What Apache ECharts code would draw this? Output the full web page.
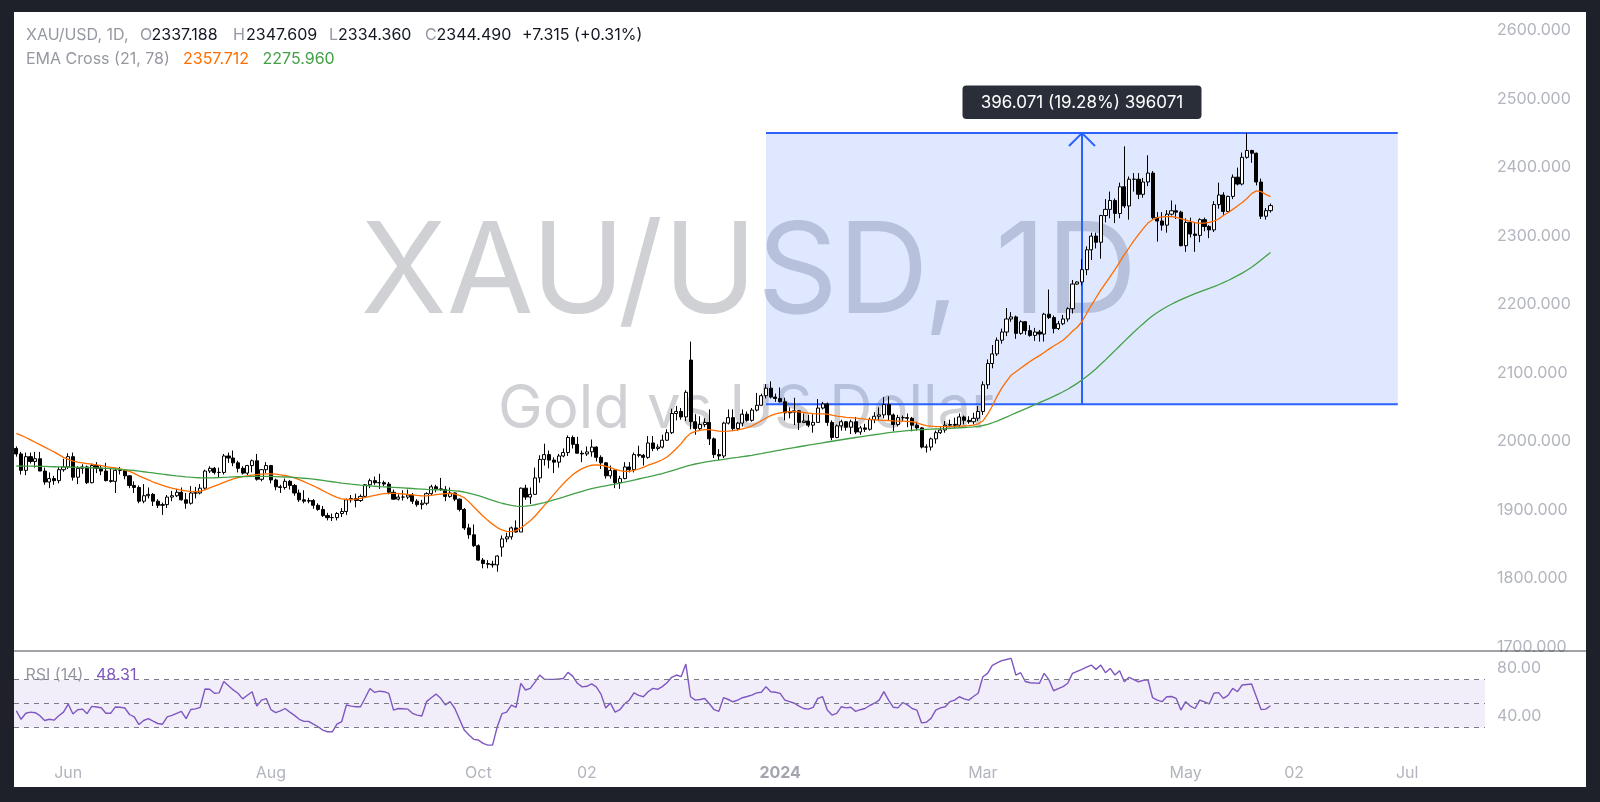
<!DOCTYPE html>
<html><head><meta charset="utf-8">
<script src="https://cdn.jsdelivr.net/npm/echarts@6/dist/echarts.min.js"></script>
<style>
html,body{margin:0;padding:0;background:#1e2129;width:1600px;height:802px;overflow:hidden;}
#panel{position:absolute;left:14px;top:12px;width:1572px;height:775px;background:#ffffff;}
#chart{position:absolute;left:0;top:0;width:1600px;height:802px;}
</style></head>
<body><div id="panel"></div><div id="chart"></div>
<script>
const dates = [
'2023-05-17','2023-05-18','2023-05-19','2023-05-22','2023-05-23','2023-05-24','2023-05-25','2023-05-26','2023-05-29','2023-05-30','2023-05-31',
'2023-06-01','2023-06-02','2023-06-05','2023-06-06','2023-06-07','2023-06-08','2023-06-09','2023-06-12','2023-06-13','2023-06-14','2023-06-15','2023-06-16','2023-06-19','2023-06-20','2023-06-21','2023-06-22','2023-06-23','2023-06-26','2023-06-27','2023-06-28','2023-06-29','2023-06-30',
'2023-07-03','2023-07-04','2023-07-05','2023-07-06','2023-07-07','2023-07-10','2023-07-11','2023-07-12','2023-07-13','2023-07-14','2023-07-17','2023-07-18','2023-07-19','2023-07-20','2023-07-21','2023-07-24','2023-07-25','2023-07-26','2023-07-27','2023-07-28','2023-07-31',
'2023-08-01','2023-08-02','2023-08-03','2023-08-04','2023-08-07','2023-08-08','2023-08-09','2023-08-10','2023-08-11','2023-08-14','2023-08-15','2023-08-16','2023-08-17','2023-08-18','2023-08-21','2023-08-22','2023-08-23','2023-08-24','2023-08-25','2023-08-28','2023-08-29','2023-08-30','2023-08-31',
'2023-09-01','2023-09-04','2023-09-05','2023-09-06','2023-09-07','2023-09-08','2023-09-11','2023-09-12','2023-09-13','2023-09-14','2023-09-15','2023-09-18','2023-09-19','2023-09-20','2023-09-21','2023-09-22','2023-09-25','2023-09-26','2023-09-27','2023-09-28','2023-09-29',
'2023-10-02','2023-10-03','2023-10-04','2023-10-05','2023-10-06','2023-10-09','2023-10-10','2023-10-11','2023-10-12','2023-10-13','2023-10-16','2023-10-17','2023-10-18','2023-10-19','2023-10-20','2023-10-23','2023-10-24','2023-10-25','2023-10-26','2023-10-27','2023-10-30','2023-10-31',
'2023-11-01','2023-11-02','2023-11-03','2023-11-06','2023-11-07','2023-11-08','2023-11-09','2023-11-10','2023-11-13','2023-11-14','2023-11-15','2023-11-16','2023-11-17','2023-11-20','2023-11-21','2023-11-22','2023-11-23','2023-11-24','2023-11-27','2023-11-28','2023-11-29','2023-11-30',
'2023-12-01','2023-12-04','2023-12-05','2023-12-06','2023-12-07','2023-12-08','2023-12-11','2023-12-12','2023-12-13','2023-12-14','2023-12-15','2023-12-18','2023-12-19','2023-12-20','2023-12-21','2023-12-22','2023-12-26','2023-12-27','2023-12-28','2023-12-29',
'2024-01-02','2024-01-03','2024-01-04','2024-01-05','2024-01-08','2024-01-09','2024-01-10','2024-01-11','2024-01-12','2024-01-15','2024-01-16','2024-01-17','2024-01-18','2024-01-19','2024-01-22','2024-01-23','2024-01-24','2024-01-25','2024-01-26','2024-01-29','2024-01-30','2024-01-31',
'2024-02-01','2024-02-02','2024-02-05','2024-02-06','2024-02-07','2024-02-08','2024-02-09','2024-02-12','2024-02-13','2024-02-14','2024-02-15','2024-02-16','2024-02-19','2024-02-20','2024-02-21','2024-02-22','2024-02-23','2024-02-26','2024-02-27','2024-02-28','2024-02-29',
'2024-03-01','2024-03-04','2024-03-05','2024-03-06','2024-03-07','2024-03-08','2024-03-11','2024-03-12','2024-03-13','2024-03-14','2024-03-15','2024-03-18','2024-03-19','2024-03-20','2024-03-21','2024-03-22','2024-03-25','2024-03-26','2024-03-27','2024-03-28','2024-03-29',
'2024-04-01','2024-04-02','2024-04-03','2024-04-04','2024-04-05','2024-04-08','2024-04-09','2024-04-10','2024-04-11','2024-04-12','2024-04-15','2024-04-16','2024-04-17','2024-04-18','2024-04-19','2024-04-22','2024-04-23','2024-04-24','2024-04-25','2024-04-26','2024-04-29','2024-04-30',
'2024-05-01','2024-05-02','2024-05-03','2024-05-06','2024-05-07','2024-05-08','2024-05-09','2024-05-10','2024-05-13','2024-05-14','2024-05-15','2024-05-16','2024-05-17','2024-05-20','2024-05-21','2024-05-22','2024-05-23','2024-05-24','2024-05-27','2024-05-28','2024-05-29','2024-05-30','2024-05-31',
'2024-06-03','2024-06-04','2024-06-05','2024-06-06','2024-06-07','2024-06-10','2024-06-11','2024-06-12','2024-06-13','2024-06-14','2024-06-17','2024-06-18','2024-06-19','2024-06-20','2024-06-21','2024-06-24','2024-06-25','2024-06-26','2024-06-27','2024-06-28',
'2024-07-01','2024-07-02','2024-07-03','2024-07-04','2024-07-05','2024-07-08','2024-07-09','2024-07-10','2024-07-11','2024-07-12','2024-07-15','2024-07-16','2024-07-17','2024-07-18','2024-07-19','2024-07-22','2024-07-23','2024-07-24','2024-07-25','2024-07-26','2024-07-29'
];

const opens = [
1990,1982,1958,1978,1971,1975,1957,1941,1946,1943,1959,1963,1978,1948,1961,1963,1940,1965,1961,1957,
1943,1942,1958,1958,1950,1936,1933,1913,1921,1923,1913,1907,1908,1919,1921,1926,1915,1910,1925,1925,
1932,1957,1961,1955,1955,1979,1976,1969,1961,1954,1965,1972,1945,1959,1965,1944,1934,1933,1942,1936,
1925,1915,1913,1914,1907,1901,1892,1889,1889,1895,1898,1915,1917,1914,1920,1937,1943,1940,1940,1938,
1926,1916,1919,1919,1922,1913,1908,1910,1924,1934,1931,1930,1920,1925,1916,1901,1874,1864,1848,1827,
1822,1821,1820,1846,1858,1861,1874,1868,1932,1919,1923,1947,1974,1981,1973,1970,1979,1984,2006,1996,
1983,1982,1985,1992,1977,1969,1950,1958,1940,1946,1963,1959,1981,1980,1977,1998,1990,1992,2002,2013,
2041,2044,2036,2119,2029,2019,2025,2028,2004,1981,1979,2027,2035,2019,2027,2040,2031,2046,2053,2067,
2078,2065,2063,2058,2042,2043,2045,2028,2030,2024,2028,2049,2055,2028,2006,2023,2029,2021,2029,2014,
2020,2018,2032,2037,2039,2054,2039,2025,2035,2035,2034,2024,2020,1992,1992,2004,2013,2017,2024,2025,
2024,2036,2031,2029,2034,2044,2083,2114,2128,2148,2160,2179,2182,2158,2175,2162,2155,2160,2157,2186,
2181,2165,2172,2179,2194,2230,2233,2251,2280,2300,2291,2330,2339,2352,2333,2372,2344,2383,2383,2361,
2379,2392,2327,2322,2316,2332,2337,2335,2286,2320,2303,2301,2324,2314,2309,2346,2360,2336,2358,2386,
2376,2415,2425,2421,2379,2329,2337.188
];
const highs = [
1993,1985,1984,1984,1985,1985,1962,1955,1950,1963,1975,1983,1984,1964,1967,1965,1968,1970,1966,1969,
1960,1961,1963,1960,1951,1942,1936,1938,1933,1925,1916,1911,1922,1928,1931,1933,1925,1935,1934,1938,
1959,1964,1963,1962,1982,1984,1987,1972,1964,1966,1974,1982,1960,1970,1966,1946,1937,1946,1944,1938,
1930,1929,1918,1916,1910,1906,1896,1895,1897,1903,1917,1922,1924,1923,1938,1946,1949,1953,1943,1941,
1930,1923,1929,1930,1925,1916,1915,1926,1937,1937,1947,1935,1933,1926,1917,1903,1880,1879,1850,1830,
1827,1826,1834,1863,1867,1876,1885,1933,1937,1933,1962,1980,1997,1987,1977,1982,1990,2009,2009,2007,
1987,1993,2003,1993,1980,1970,1965,1960,1950,1970,1970,1984,1994,1982,2008,2008,1996,2010,2018,2048,
2052,2049,2075,2146,2040,2037,2034,2047,2006,1989,2029,2047,2047,2029,2047,2044,2049,2071,2070,2084,
2088,2070,2079,2064,2050,2064,2046,2041,2039,2040,2062,2058,2057,2031,2025,2032,2030,2032,2036,2023,
2026,2035,2043,2050,2065,2066,2041,2039,2038,2041,2036,2029,2021,1996,2006,2016,2021,2030,2032,2035,
2041,2038,2037,2042,2052,2088,2120,2141,2152,2165,2195,2189,2184,2177,2176,2170,2166,2163,2188,2222,
2184,2176,2185,2196,2236,2234,2266,2285,2305,2305,2331,2354,2365,2355,2378,2431,2387,2392,2392,2385,
2418,2395,2335,2335,2338,2352,2346,2337,2326,2327,2319,2326,2327,2316,2351,2378,2364,2359,2390,2400,
2422,2450,2426,2422,2384,2341,2347.609
];
const lows = [
1978,1952,1951,1968,1962,1957,1937,1932,1937,1939,1956,1960,1943,1938,1953,1938,1939,1954,1951,1942,
1940,1925,1952,1945,1932,1925,1910,1910,1917,1906,1903,1893,1903,1913,1919,1914,1902,1908,1917,1923,
1930,1954,1952,1948,1952,1969,1964,1955,1952,1951,1955,1943,1942,1954,1939,1929,1925,1930,1930,1921,
1912,1910,1910,1902,1899,1890,1885,1884,1885,1890,1893,1911,1904,1912,1918,1932,1937,1931,1935,1923,
1915,1914,1914,1916,1909,1905,1901,1907,1922,1926,1928,1913,1918,1913,1898,1871,1858,1846,1826,1815,
1815,1816,1810,1832,1853,1857,1867,1868,1915,1909,1922,1940,1965,1961,1954,1962,1977,1979,1990,1983,
1970,1979,1978,1971,1960,1946,1946,1932,1931,1945,1955,1955,1977,1965,1975,1986,1987,1990,2001,2011,
2031,2032,2030,2018,2010,2017,2021,1995,1976,1973,1976,2025,2016,2016,2022,2029,2029,2044,2052,2063,
2063,2058,2057,2031,2034,2024,2017,2027,2021,2013,2028,2047,2023,2002,2005,2016,2016,2011,2011,2010,
2014,2016,2027,2031,2034,2030,2015,2022,2030,2021,2015,2016,1990,1984,1987,1997,2011,2013,2021,2020,
2021,2025,2026,2025,2030,2039,2077,2107,2125,2143,2154,2175,2150,2156,2156,2153,2147,2146,2146,2179,
2158,2163,2170,2175,2187,2229,2228,2243,2265,2282,2267,2320,2326,2319,2326,2341,2324,2365,2354,2356,
2373,2325,2292,2308,2305,2330,2325,2285,2277,2298,2277,2291,2307,2297,2306,2340,2331,2335,2354,2374,
2374,2413,2407,2374,2325,2324,2334.36
];
const closes = [
1982,1958,1978,1971,1975,1957,1941,1946,1943,1959,1963,1978,1948,1961,1963,1940,1965,1961,1957,1943,
1942,1958,1958,1950,1936,1933,1913,1921,1923,1913,1907,1908,1919,1921,1926,1915,1910,1925,1925,1932,
1957,1961,1955,1955,1979,1976,1969,1961,1954,1965,1972,1945,1959,1965,1944,1934,1933,1942,1936,1925,
1915,1913,1914,1907,1901,1892,1889,1889,1895,1898,1915,1917,1914,1920,1937,1943,1940,1940,1938,1926,
1916,1919,1919,1922,1913,1908,1910,1924,1934,1931,1930,1920,1925,1916,1901,1874,1864,1848,1827,1822,
1821,1820,1833,1858,1861,1874,1868,1932,1919,1923,1947,1974,1981,1973,1970,1979,1984,2006,1996,1983,
1982,1985,1992,1977,1969,1950,1958,1940,1946,1963,1959,1981,1980,1977,1998,1990,1992,2002,2013,2041,
2044,2036,2072,2029,2019,2025,2028,2004,1981,1979,2027,2035,2019,2027,2040,2031,2046,2053,2067,2078,
2065,2063,2058,2042,2043,2045,2028,2030,2024,2028,2049,2055,2028,2006,2023,2029,2021,2029,2014,2020,
2018,2032,2037,2039,2054,2039,2025,2035,2035,2034,2024,2020,1992,1992,2004,2013,2017,2024,2025,2024,
2036,2031,2029,2034,2044,2083,2114,2128,2148,2160,2179,2182,2158,2175,2162,2155,2160,2157,2186,2181,
2165,2172,2179,2194,2230,2233,2251,2280,2300,2291,2330,2339,2352,2333,2372,2344,2383,2383,2361,2379,
2392,2327,2322,2316,2332,2337,2335,2286,2320,2303,2301,2324,2314,2309,2346,2360,2336,2358,2386,2376,
2415,2425,2421,2379,2329,2337.175,2344.49
];

const ema21 = [
2012,2009,2006,2002.5,1999,1995.5,1992,1988.5,1985,1981,
1977,1974,1971.5,1970,1969,1968,1967,1966,1965,1963.5,
1962.5,1961.5,1960,1958.5,1956.5,1953.5,1950,1947,1944,1941,
1938.5,1936,1934,1932,1930.5,1929,1928,1927.2,1927,1927.5,
1929.5,1932.5,1935,1937.5,1940.5,1943,1945.5,1947.5,1948.8,1950,
1951,1951.8,1952.4,1953,1953,1952.5,1951.5,1950.5,1949,1947,
1944.5,1941.5,1938.5,1935.5,1932,1928.5,1925,1921.5,1918.5,1916.5,
1915.5,1915.5,1916,1917,1918.5,1920,1921.5,1923,1924,1924.5,
1924.3,1924,1923.5,1923,1922.3,1921.5,1920.8,1920.8,1921.5,1922.5,
1923.3,1924,1924.5,1923.5,1921.5,1918,1912,1905,1898,1891,
1885,1879.5,1874.5,1871,1868.8,1868.5,1870,1874,1879,1884.5,
1891,1899,1907,1915,1923,1931,1938.5,1945.5,1951.5,1956.5,
1960.5,1963.5,1965.5,1966,1965.5,1964,1962,1959.5,1957.5,1956.5,
1956.5,1958,1960,1962.5,1965.5,1968,1970.5,1973.5,1977.5,1983.5,
1990,1997,2006,2012,2015,2016.5,2017.5,2017.5,2016.5,2015.3,
2014.8,2015.2,2016,2017,2018.5,2020.5,2023,2026.5,2030.5,2034.5,
2038,2040.5,2042,2043,2043.7,2044,2043.5,2042.5,2041.5,2040.8,
2040.5,2040.5,2040,2038.5,2037.3,2036.5,2035.5,2035,2034.3,2033.5,
2032.8,2032.3,2031.8,2031.3,2031,2030.8,2030.3,2030,2029.8,2029.5,
2029,2027.5,2025,2023.3,2022.5,2022,2021.8,2021.8,2021.8,2022,
2022.5,2022.8,2023.2,2024,2026,2030,2040,2052,2066,2078,
2088,2097,2102,2107,2112,2117,2121.5,2125.5,2130,2135,
2139.5,2143.5,2148,2154,2161,2167,2175,2187,2199,2210,
2221,2231,2241,2251,2262,2273,2283,2293,2302,2311,
2319,2324,2327,2328,2328.5,2328.5,2327.5,2325.5,2323.5,2321.5,
2319.5,2319,2319,2320,2322,2325,2330,2334,2339,2344,
2349,2355,2362,2366,2365,2361,2357.712
];
const ema78 = [
1964.4,1964.3,1964.2,1964.1,1964,1963.9,1963.7,1963.5,1963.3,1963.1,
1963,1962.8,1962.6,1962.4,1962.2,1962,1961.8,1961.5,1961.2,1960.8,
1960.4,1960,1959.5,1959,1958.5,1957.8,1956.9,1956,1955.1,1954.2,
1953.3,1952.4,1951.6,1950.8,1950,1949.3,1948.6,1948,1947.5,1947.2,
1947.1,1947.1,1947.2,1947.4,1947.7,1948,1948.4,1948.7,1948.9,1949,
1949.1,1949.1,1949.2,1949.2,1949.1,1948.9,1948.6,1948.3,1948,1947.6,
1947.1,1946.5,1945.8,1945.1,1944.3,1943.4,1942.4,1941.4,1940.4,1939.5,
1938.7,1937.9,1937.2,1936.5,1935.9,1935.3,1934.8,1934.3,1933.9,1933.5,
1933.1,1932.7,1932.3,1931.9,1931.5,1931.1,1930.7,1930.3,1930,1929.7,
1929.4,1929.1,1928.7,1928.2,1927.5,1926.4,1924.8,1923,1921,1918.8,
1916.5,1914.2,1912,1910,1908.2,1906.8,1905.8,1905.5,1905.8,1906.6,
1907.8,1909.3,1911,1912.8,1914.8,1916.8,1918.8,1921,1923.2,1925.4,
1927.5,1929.4,1931.2,1932.8,1934.2,1935.5,1936.8,1938,1939.3,1940.8,
1942.3,1943.9,1945.4,1946.9,1948.4,1950,1951.7,1953.4,1955.3,1957.4,
1959.5,1961.8,1964,1965.8,1967.3,1968.7,1970,1971.2,1972.2,1973.1,
1974.1,1975.1,1976.1,1977,1978,1979,1980,1981.2,1982.4,1983.8,
1985.1,1986.4,1987.7,1988.9,1990.1,1991.3,1992.5,1993.6,1994.7,1995.8,
1997,1998.2,1999.4,2000.5,2001.6,2002.7,2003.8,2004.9,2006,2007,
2008,2009,2010,2011,2012,2013,2013.8,2014.6,2015.3,2016,
2016.6,2017.1,2017.5,2017.8,2018.1,2018.4,2018.7,2019,2019.4,2019.8,
2020.2,2020.6,2021,2021.5,2022.3,2023.5,2025.3,2027.5,2030,2032.8,
2035.8,2038.8,2041.8,2044.8,2047.8,2050.8,2053.8,2056.8,2059.8,2062.8,
2066,2069.3,2072.8,2076.5,2080.6,2085,2089.8,2095,2100.6,2106.5,
2112.8,2119.3,2126,2132.8,2139.6,2146.3,2153,2159.6,2166,2172.2,
2178.2,2183.6,2188.4,2192.8,2196.8,2200.5,2204,2207.2,2210.2,2213.2,
2216,2218.7,2221.2,2223.6,2226.2,2229,2232,2235.2,2238.6,2242.2,
2246,2250.2,2254.6,2259.5,2265,2270.5,2275.96
];
const rsi14 = [
44,37,42,43,42.5,40,36,37,36.3,40,
43,49.7,41.4,45,45.5,41.7,47.8,47.2,46.6,42,
42,47.3,47,46.4,41,39,32.6,36,37.6,35.4,
33.5,32.9,39,40.3,42,43.6,37.6,45.2,45.7,47,
62.2,62,58.7,59,68.5,65,61.5,58.7,54,57,
60,48,53,54.3,45,42.6,44,46,43,40.3,
37,35.3,35.3,33,30.8,28,26.6,26.6,33,35,
48.9,48,47.5,47.5,55,62.7,59.4,60.5,60,58.6,
44.7,46,45.8,45.5,42,40.5,39.7,51.7,55,58,
54.5,49,51.7,46,37,28,24,20.3,19.7,17,
15.5,15.5,30.8,41.7,43,48.9,47,67,61.4,62.8,
68,73.9,70.3,70.3,70.3,70.6,71,76.1,73,67,
64,64.5,66.5,64,58,46.4,50.5,43,45,50,
52.9,59,57,55.8,60,62.8,62,64.2,67.5,72,
73.9,72.5,83,55.8,53,53.5,54.3,50,45,43.6,
55.1,53.5,51.6,53,55,56,57.2,59,59.5,64.2,
60,59.5,58.6,53,51.7,50.4,48,46,45.5,47,
54.4,55.8,44.7,40.5,42,47.5,46.5,47,43.6,45,
46,48.5,50.4,53,60,53,47,46.5,51,49,
46,44.7,34,34.5,37.8,44.7,46.5,47.5,51.7,53,
55.8,54,53,56,58.7,72.5,75.3,82,84,85.9,
86.8,87.8,73.9,75.8,68.5,67.5,67.2,67,75.3,70,
60.8,62.5,64.2,67,75.3,77,78.6,80.5,82.2,78.6,
82.2,75.8,79.4,73.9,77.5,68.3,72,70,68.3,69.5,
70,55,53,51.7,55.8,56,54.4,44.7,51.7,48,
46,53,51.5,49.8,58.7,59.2,54.4,57,62.8,60,
65.6,66,66.4,55.8,45.2,45.5,48.31
];

const priceTicks = {min: 1700, max: 2600, step: 100};
const tickDates = ['2023-06-01','2023-08-01','2023-10-02','2023-11-02','2024-01-02','2024-03-01','2024-05-01','2024-06-03','2024-07-05'];
const tickTexts = ['Jun','Aug','Oct','02','2024','Mar','May','02','Jul'];

const measureStart = '2023-12-27';
const measureEnd = '2024-07-03';
const measureArrow = '2024-04-01';
const measureLow = 2054.35;
const measureHigh = 2450.42;
const measureText = '396.071 (19.28%) 396071';

const FONT = 'Inter, "Noto Sans", sans-serif';
const LBL = '#b2b5be';

const candleData = opens.map((o, i) => [o, closes[i], lows[i], highs[i]]);
const tickMap = {};
tickDates.forEach((d, i) => { tickMap[d] = tickTexts[i]; });

const chart = echarts.init(document.getElementById('chart'), null, {renderer: 'canvas'});

function hdr(x, y, text, fill) {
  return {type: 'text', x: x, y: y, z: 10,
    style: {text: text, fill: fill, font: '16px ' + FONT, verticalAlign: 'middle', textVerticalAlign: 'middle'}};
}

const option = {
  backgroundColor: 'transparent',
  animation: false,
  grid: [
    {left: 14, width: 1471, top: 30.6, height: 616.5},
    {left: 14, width: 1471, top: 643.7, height: 120}
  ],
  xAxis: [
    {type: 'category', gridIndex: 0, data: dates, boundaryGap: true, show: false},
    {type: 'category', gridIndex: 1, data: dates, boundaryGap: true,
      axisLine: {show: false}, axisTick: {show: false}, splitLine: {show: false},
      axisLabel: {
        margin: 1, fontSize: 16, fontFamily: FONT, color: LBL,
        interval: function (idx, val) { return tickMap[val] !== undefined; },
        formatter: function (val) {
          const t = tickMap[val];
          if (!t) return '';
          return t === '2024' ? '{b|' + t + '}' : t;
        },
        rich: {b: {fontWeight: 'bold', fontSize: 16, fontFamily: FONT, color: '#a3a6af'}}
      }}
  ],
  yAxis: [
    {type: 'value', gridIndex: 0, position: 'right', min: priceTicks.min, max: priceTicks.max, interval: priceTicks.step,
      axisLine: {show: false}, axisTick: {show: false}, splitLine: {show: false},
      axisLabel: {margin: 12, fontSize: 16, fontFamily: FONT, color: LBL, formatter: v => v.toFixed(3)}},
    {type: 'value', gridIndex: 1, position: 'right', min: 0, max: 100, interval: 40,
      axisLine: {show: false}, axisTick: {show: false}, splitLine: {show: false},
      axisLabel: {margin: 12, fontSize: 16, fontFamily: FONT, color: LBL,
        formatter: v => (v === 40 || v === 80) ? v.toFixed(2) : ''}}
  ],
  graphic: [
    {type: 'text', x: 749, y: 275, z: 0, silent: true,
      style: {text: 'XAU/USD, 1D', fill: 'rgba(120,123,134,0.35)', font: '126px ' + FONT,
        align: 'center', verticalAlign: 'middle', textAlign: 'center', textVerticalAlign: 'middle'}},
    {type: 'text', x: 746, y: 410, z: 0, silent: true,
      style: {text: 'Gold vs US Dollar', fill: 'rgba(120,123,134,0.35)', font: '60px ' + FONT,
        align: 'center', verticalAlign: 'middle', textAlign: 'center', textVerticalAlign: 'middle'}},
    {type: 'line', z: 10, shape: {x1: 14, y1: 651, x2: 1586, y2: 651}, style: {stroke: '#434651', lineWidth: 1}},
    hdr(26, 35, 'XAU/USD, 1D,', '#9598a1'),
    hdr(140, 35, 'O', '#9598a1'), hdr(151.5, 35, '2337.188', '#131722'),
    hdr(233, 35, 'H', '#9598a1'), hdr(246, 35, '2347.609', '#131722'),
    hdr(329, 35, 'L', '#9598a1'), hdr(338, 35, '2334.360', '#131722'),
    hdr(425, 35, 'C', '#9598a1'), hdr(436.5, 35, '2344.490', '#131722'),
    hdr(522, 35, '+7.315 (+0.31%)', '#131722'),
    hdr(26, 59, 'EMA Cross (21, 78)', '#9598a1'),
    hdr(183, 59, '2357.712', '#ff6d00'),
    hdr(262.5, 59, '2275.960', '#43a047'),
    hdr(25.5, 675, 'RSI (14)', '#9598a1'),
    hdr(96, 675, '48.31', '#7e57c2')
  ],
  series: [
    {
      type: 'custom', xAxisIndex: 0, yAxisIndex: 0, z: 1, clip: false, silent: true,
      data: [[dates.indexOf(measureStart), dates.indexOf(measureEnd), measureLow, measureHigh, dates.indexOf(measureArrow)]],
      encode: {x: [0, 1, 4], y: [2, 3]},
      renderItem: function (params, api) {
        const lt = api.coord([api.value(0), api.value(3)]);
        const rb = api.coord([api.value(1), api.value(2)]);
        const at = api.coord([api.value(4), api.value(3)]);
        const ab = api.coord([api.value(4), api.value(2)]);
        const blue = '#2962ff';
        const ax = Math.round(at[0]);
        return {type: 'group', children: [
          {type: 'rect', shape: {x: lt[0], y: lt[1], width: rb[0] - lt[0], height: rb[1] - lt[1]},
            style: {fill: 'rgba(41,98,255,0.15)'}},
          {type: 'line', shape: {x1: lt[0], y1: lt[1], x2: rb[0], y2: lt[1]}, style: {stroke: blue, lineWidth: 2}},
          {type: 'line', shape: {x1: lt[0], y1: rb[1], x2: rb[0], y2: rb[1]}, style: {stroke: blue, lineWidth: 2}},
          {type: 'line', shape: {x1: ax, y1: ab[1], x2: ax, y2: at[1]}, style: {stroke: blue, lineWidth: 2}},
          {type: 'polyline', shape: {points: [[ax - 13, at[1] + 13], [ax, at[1]], [ax + 13, at[1] + 13]]},
            style: {stroke: blue, lineWidth: 2, fill: null}},
          {type: 'rect', shape: {x: ax - 119.5, y: at[1] - 47.5, width: 239, height: 33.5, r: 4},
            style: {fill: '#2a2e39'}},
          {type: 'text', x: ax, y: at[1] - 30.5,
            style: {text: measureText, fill: '#ffffff', font: '17px ' + FONT,
              align: 'center', verticalAlign: 'middle', textAlign: 'center', textVerticalAlign: 'middle'}}
        ]};
      }
    },
    {
      type: 'candlestick', xAxisIndex: 0, yAxisIndex: 0, z: 3, barWidth: 3.6,
      data: candleData,
      itemStyle: {color: '#ffffff', color0: '#000000', borderColor: '#000000', borderColor0: '#000000', borderWidth: 1}
    },
    {
      type: 'line', xAxisIndex: 0, yAxisIndex: 0, z: 4, data: ema21, symbol: 'none', smooth: false,
      lineStyle: {color: '#ff6d00', width: 1.3}
    },
    {
      type: 'line', xAxisIndex: 0, yAxisIndex: 0, z: 4, data: ema78, symbol: 'none', smooth: false,
      lineStyle: {color: '#43a047', width: 1.3}
    },
    {
      type: 'line', xAxisIndex: 1, yAxisIndex: 1, z: 4, data: rsi14, symbol: 'none', smooth: false,
      lineStyle: {color: '#7e57c2', width: 1.4},
      markArea: {silent: true, itemStyle: {color: 'rgba(126,87,194,0.1)'}, data: [[{yAxis: 70}, {yAxis: 30}]]},
      markLine: {silent: true, symbol: 'none', label: {show: false},
        lineStyle: {color: '#787b86', type: [5, 5], width: 1},
        data: [{yAxis: 70}, {yAxis: 50}, {yAxis: 30}]}
    }
  ]
};
chart.setOption(option);
</script>
</body></html>
